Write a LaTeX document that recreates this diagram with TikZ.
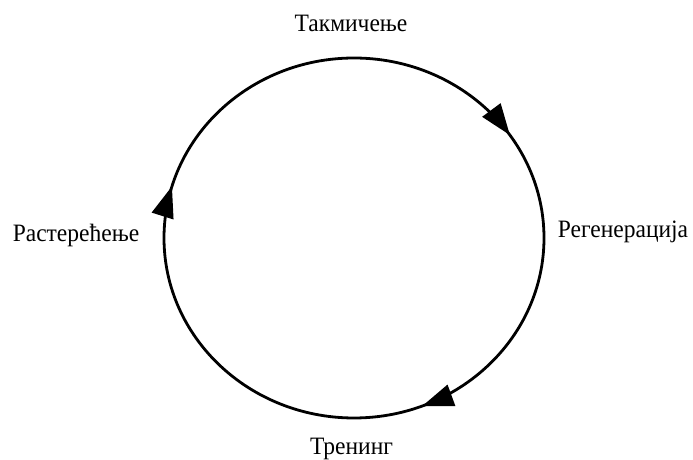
\documentclass[tikz,border=0pt]{standalone}
\usepackage{fontspec}
\setmainfont{Liberation Serif}
\usetikzlibrary{arrows.meta,decorations.markings}
\newcommand{\lbltext}[1]{\scalebox{0.94}[1]{#1}}
\begin{document}
\begin{tikzpicture}[x=1pt,y=1pt,
  lbl/.style={font=\fontsize{25}{28}\selectfont, inner sep=0pt, anchor=base},
  cyc/.style={line width=2.8pt, black},
  headtip/.style={line width=0pt}
]
\useasboundingbox (0,0) rectangle (693,460);
\coordinate (c) at (354,222);
\draw[cyc, postaction={decorate}, decoration={markings,
   mark=at position 0.190 with {\arrow[headtip]{Triangle[length=31pt,width=23pt]}},
   mark=at position 0.545 with {\arrow[headtip]{Triangle[length=31pt,width=23pt]}},
   mark=at position 0.905 with {\arrow[headtip]{Triangle[length=31pt,width=23pt]}}}]
  ([xshift=190pt]c) arc[start angle=0, end angle=-360, x radius=190, y radius=180];
\node[lbl] (tak) at (351,428) {\lbltext{Такмичење}};
\node[lbl] (reg) at (623,222) {\lbltext{Регенерација}};
\node[lbl] (tre) at (351.5,5) {\lbltext{Тренинг}};
\node[lbl] (ras) at (76,218) {\lbltext{Растерећење}};
\end{tikzpicture}
\end{document}
